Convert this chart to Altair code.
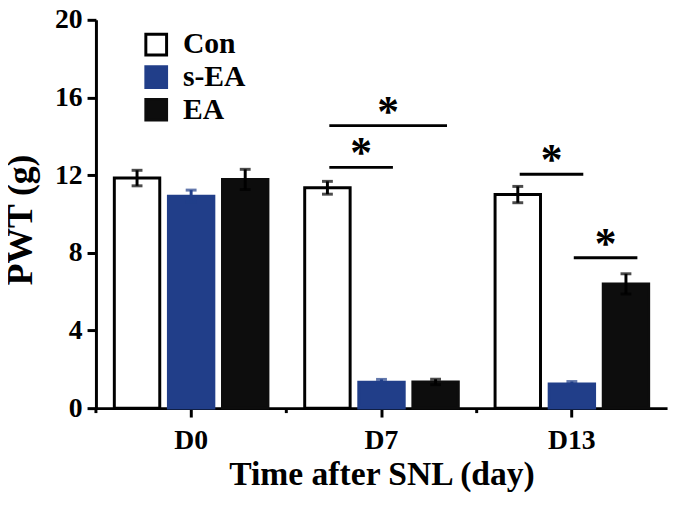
import altair as alt
import pandas as pd

# ---------------- data ----------------
groups = ["D0", "D7", "D13"]
series = ["Con", "s-EA", "EA"]
con_mean = [11.85, 11.35, 11.0]
con_err = [0.40, 0.33, 0.42]
sea_mean = [10.92, 1.33, 1.25]
sea_err = [0.31, 0.15, 0.12]
ea_mean = [11.78, 1.35, 6.40]
ea_err = [0.52, 0.14, 0.52]

# significance brackets
sig_group = ["D7", "D7", "D13", "D13"]
sig_from = ["Con", "Con", "Con", "s-EA"]
sig_to = ["s-EA", "EA", "s-EA", "EA"]
sig_level = [12.4, 14.55, 12.05, 7.75]
sig_text = ["*", "*", "*", "*"]

# ---------------- style ----------------
FONT = "Liberation Serif"
BLUE = "#213e89"
BLACK = "#0d0d0d"
W, H = 578, 393
P_INNER, P_OUTER = 0.16, 0.34

rows = []
means = [con_mean, sea_mean, ea_mean]
errs = [con_err, sea_err, ea_err]
for gi, g in enumerate(groups):
    for si, s in enumerate(series):
        m, e = means[si][gi], errs[si][gi]
        rows.append({"group": g, "series": s, "value": m, "lo": m - e, "hi": m + e})
bars_df = pd.DataFrame(rows)

sig_df = pd.DataFrame({"group": sig_group, "s1": sig_from, "s2": sig_to,
                       "level": sig_level, "label": sig_text})
tick_df = pd.DataFrame({"group": groups})

base = alt.Chart(bars_df)
x_enc = alt.X("group:N", sort=groups,
              scale=alt.Scale(paddingInner=0, paddingOuter=0),
              axis=alt.Axis(title="Time after SNL (day)", labelAngle=0,
                            tickSize=9, labelPadding=10, titlePadding=3))
xo_enc = alt.XOffset("series:N", sort=series,
                     scale=alt.Scale(paddingInner=P_INNER, paddingOuter=P_OUTER))
y_scale = alt.Scale(domain=[0, 20], nice=False, zero=True)
y_enc = alt.Y("value:Q", scale=y_scale,
              axis=alt.Axis(title="PWT (g)", values=list(range(0, 21, 2)),
                            labelExpr="datum.value % 4 === 0 ? datum.label : ''",
                            tickSize=9, labelPadding=5, titlePadding=15,
                            titleFontSize=36, titleY=202,
                            tickDash={"condition": {"test": "datum.value % 4 === 0", "value": [20, 1]},
                                      "value": [5, 30]}))

fill_enc = alt.Fill("series:N", sort=series,
                    scale=alt.Scale(domain=series, range=["white", BLUE, BLACK]),
                    legend=alt.Legend(title=None))
stroke_enc = alt.Stroke("series:N", sort=series,
                        scale=alt.Scale(domain=series, range=["black", BLUE, BLACK]),
                        legend=alt.Legend(title=None))

bars = base.mark_bar(strokeWidth=3).encode(
    x=x_enc, xOffset=xo_enc, y=y_enc, fill=fill_enc, stroke=stroke_enc)

err_color = alt.condition(alt.datum.series == "s-EA", alt.value(BLUE), alt.value("black"))
err = base.mark_rule(strokeWidth=3).encode(
    x=alt.X("group:N", sort=groups), xOffset=alt.XOffset("series:N", sort=series),
    y=alt.Y("lo:Q", scale=y_scale), y2="hi:Q", color=err_color)
cap_hi = base.mark_tick(thickness=3, size=11).encode(
    x=alt.X("group:N", sort=groups), xOffset=alt.XOffset("series:N", sort=series),
    y=alt.Y("hi:Q", scale=y_scale), color=err_color)
cap_lo = base.mark_tick(thickness=3, size=11).encode(
    x=alt.X("group:N", sort=groups), xOffset=alt.XOffset("series:N", sort=series),
    y=alt.Y("lo:Q", scale=y_scale), color=err_color)

main = alt.layer(bars, err, cap_hi, cap_lo)

# annotation layer on a continuous x scale spanning the same bands
step = 1.0 / (len(series) - P_INNER + 2 * P_OUTER)
gl = "[" + ",".join("'%s'" % g for g in groups) + "]"
sl = "[" + ",".join("'%s'" % s for s in series) + "]"
qx = alt.Scale(domain=[-0.5, len(groups) - 0.5], nice=False, zero=False)
PAD_L, PAD_R = 0.01, 0.06

ann = alt.Chart(sig_df).transform_calculate(
    gi="indexof(%s, datum.group)" % gl,
    c1="(indexof(%s, datum.s1) - 1) * %f" % (sl, step),
    c2="(indexof(%s, datum.s2) - 1) * %f" % (sl, step),
).transform_calculate(
    xa="datum.gi + datum.c1 + %f" % PAD_L,
    xb="datum.gi + datum.c2 + %f" % PAD_R,
).transform_calculate(
    xm="(datum.xa + datum.xb) / 2",
)
lines = ann.mark_rule(strokeWidth=3, color="black").encode(
    x=alt.X("xa:Q", scale=qx, axis=None), x2="xb:Q",
    y=alt.Y("level:Q", scale=y_scale))
stars = ann.mark_text(font=FONT, fontSize=44, fontWeight="bold", baseline="middle",
                      dy=-13, color="black").encode(
    x=alt.X("xm:Q", scale=qx, axis=None),
    y=alt.Y("level:Q", scale=y_scale), text="label:N")
minor = alt.Chart(tick_df).transform_calculate(
    bx="indexof(%s, datum.group) - 0.5" % gl
).mark_rule(strokeWidth=3, color="black").encode(
    x=alt.X("bx:Q", scale=qx, axis=None), y=alt.value(H), y2=alt.value(H + 5))

chart = alt.layer(main, lines, stars, minor).resolve_scale(x="independent").properties(
    width=W, height=H,
    autosize=alt.AutoSizeParams(type="none"),
    padding={"left": 89, "top": 9, "right": 5, "bottom": 90},
).configure_view(stroke=None).configure_axis(
    domainColor="black", domainWidth=3, tickColor="black", tickWidth=3,
    labelFont=FONT, labelFontSize=28, labelFontWeight="bold", labelColor="black",
    titleFont=FONT, titleFontSize=34, titleFontWeight="bold", titleColor="black",
    grid=False,
).configure_legend(
    orient="none", legendX=46, legendY=10, padding=0,
    symbolType="square", symbolSize=441, symbolStrokeWidth=3,
    labelFont=FONT, labelFontSize=30, labelFontWeight="bold", labelColor="black",
    labelOffset=12, rowPadding=-1,
)

chart.save("out.html", embed_options={"renderer": "svg", "actions": False})
